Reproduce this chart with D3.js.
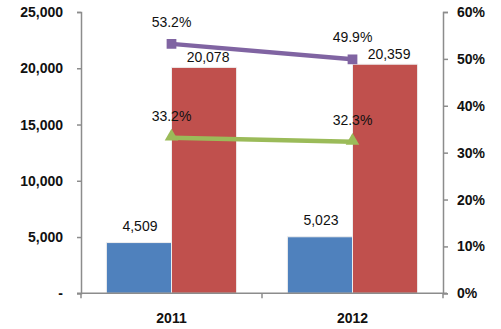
<!DOCTYPE html>
<html>
<head>
<meta charset="utf-8">
<script src="https://cdn.jsdelivr.net/npm/d3@7"></script>
<style>
  html, body { margin: 0; padding: 0; background: #fff; }
  svg text { font-family: "Liberation Sans", Arial, sans-serif; fill: #111; }
</style>
</head>
<body>
<svg id="chart" width="501" height="329"></svg>
<script>
// Yearly values
const years = ["2011", "2012"];
const blueValues = [4509, 5023];
const redValues = [20078, 20359];
const purpleRates = [53.2, 49.9];
const greenRates = [33.2, 32.3];
const leftTicks = [0, 5000, 10000, 15000, 20000, 25000];
const rightTicks = [0, 10, 20, 30, 40, 50, 60];

(function draw() {
  const svg = d3.select("#chart");
  const plotLeft = 81, plotRight = 443, plotTop = 12, plotBottom = 293.3;

  const x = d3.scaleBand().domain(years).range([plotLeft, plotRight]).paddingInner(0).paddingOuter(0);
  const inner = d3.scaleBand().domain(["blue", "red"]).range([0, x.bandwidth()]).paddingInner(0).paddingOuter(0.39);
  const yL = d3.scaleLinear().domain([0, 25000]).range([plotBottom, plotTop]);
  const yR = d3.scaleLinear().domain([0, 60]).range([plotBottom, plotTop]);

  const fmt = d3.format(",");

  // Bars
  const barData = years.flatMap((yr, i) => [
    { yr, key: "blue", v: blueValues[i], color: "#4F81BD" },
    { yr, key: "red", v: redValues[i], color: "#C0504D" }
  ]);
  svg.append("g").selectAll("rect").data(barData).join("rect")
    .attr("x", d => x(d.yr) + inner(d.key))
    .attr("y", d => yL(d.v))
    .attr("width", inner.bandwidth())
    .attr("height", d => yL(0) - yL(d.v))
    .attr("fill", d => d.color)
    .attr("stroke", "#eeeeee")
    .attr("stroke-width", 1);

  // Bar labels
  svg.append("g").selectAll("text").data(barData).join("text")
    .attr("x", d => x(d.yr) + inner(d.key) + inner.bandwidth() / 2 + (d.key === "red" ? 4 : 1))
    .attr("y", d => yL(d.v) - (d.key === "red" ? 5 : 12))
    .attr("text-anchor", "middle")
    .attr("font-size", 14)
    .text(d => fmt(d.v));

  // Axes
  const axisColor = "#8c8c8c";
  const gL = svg.append("g").attr("transform", `translate(${plotLeft},0)`)
    .call(d3.axisLeft(yL).tickValues(leftTicks).tickSize(4).tickPadding(14)
      .tickFormat(d => d === 0 ? "-" : fmt(d)));
  const gR = svg.append("g").attr("transform", `translate(${plotRight},0)`)
    .call(d3.axisRight(yR).tickValues(rightTicks).tickSize(5).tickPadding(9)
      .tickFormat(d => d + "%"));
  const gX = svg.append("g").attr("transform", `translate(0,${plotBottom})`)
    .call(d3.axisBottom(x).tickSize(0).tickPadding(20));

  [gL, gR, gX].forEach(g => {
    g.select(".domain").attr("stroke", axisColor).attr("stroke-width", 1.5);
    g.selectAll(".tick line").attr("stroke", axisColor).attr("stroke-width", 1.5);
    g.selectAll(".tick text").attr("font-size", 14).attr("font-weight", "bold")
      .attr("font-family", "'Liberation Sans', Arial, sans-serif").attr("fill", "#111");
  });
  gX.select(".domain").attr("d", `M${plotLeft - 4},0H${plotRight + 4}`);
  // Category divider ticks below the baseline
  svg.append("g").selectAll("line").data([plotLeft, x("2012"), plotRight]).join("line")
    .attr("x1", d => d).attr("x2", d => d)
    .attr("y1", plotBottom).attr("y2", plotBottom + 5)
    .attr("stroke", axisColor).attr("stroke-width", 1.5);

  // Rate lines
  const cx = yr => x(yr) + x.bandwidth() / 2;
  const line = d3.line().x(d => cx(d.yr)).y(d => yR(d.v));
  const purple = years.map((yr, i) => ({ yr, v: purpleRates[i] }));
  const green = years.map((yr, i) => ({ yr, v: greenRates[i] }));

  svg.append("path").datum(purple).attr("d", line)
    .attr("fill", "none").attr("stroke", "#8064A2").attr("stroke-width", 4.5);
  svg.append("path").datum(green).attr("d", line)
    .attr("fill", "none").attr("stroke", "#9BBB59").attr("stroke-width", 4.5);

  svg.append("g").selectAll("path").data(purple).join("path")
    .attr("d", d3.symbol(d3.symbolSquare, 95))
    .attr("transform", d => `translate(${cx(d.yr)},${yR(d.v)})`)
    .attr("fill", "#8064A2");
  svg.append("g").selectAll("path").data(green).join("path")
    .attr("d", d3.symbol(d3.symbolTriangle, 80))
    .attr("transform", d => `translate(${cx(d.yr)},${yR(d.v) - 1})`)
    .attr("fill", "#9BBB59");

  // Rate labels
  svg.append("g").selectAll("text").data(purple.concat(green)).join("text")
    .attr("x", d => cx(d.yr))
    .attr("y", d => yR(d.v) - 17)
    .attr("text-anchor", "middle")
    .attr("font-size", 14)
    .text(d => d.v.toFixed(1) + "%");
})();
</script>
</body>
</html>
